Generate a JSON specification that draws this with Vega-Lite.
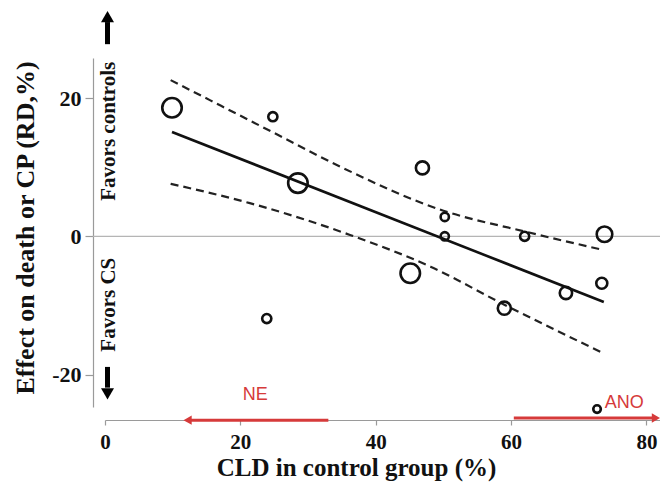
{
  "$schema": "https://vega.github.io/schema/vega-lite/v6.json",
  "width": 555,
  "height": 349,
  "autosize": "none",
  "padding": {"left": 105, "top": 58, "right": 0, "bottom": 77},
  "background": "white",
  "config": {"view": {"stroke": null}, "font": "Liberation Serif"},
  "datasets": {
    "studies": [
      {"x": 9.9, "y": 18.6, "weight": 100},
      {"x": 24.8, "y": 17.3, "weight": 22},
      {"x": 28.5, "y": 7.7, "weight": 100},
      {"x": 46.9, "y": 9.9, "weight": 45},
      {"x": 50.2, "y": 2.8, "weight": 18},
      {"x": 50.2, "y": 0, "weight": 18},
      {"x": 62.0, "y": 0, "weight": 22},
      {"x": 73.8, "y": 0.3, "weight": 64},
      {"x": 23.9, "y": -11.9, "weight": 22},
      {"x": 45.1, "y": -5.35, "weight": 100},
      {"x": 59.0, "y": -10.4, "weight": 45},
      {"x": 68.1, "y": -8.2, "weight": 40},
      {"x": 73.4, "y": -6.8, "weight": 32},
      {"x": 72.7, "y": -25.0, "weight": 15}
    ],
    "fit": [
      {"x": 9.9, "y": 15.1},
      {"x": 73.7, "y": -9.5}
    ],
    "bands": [
      {"bound": "upper", "x": 9.7, "y": 22.6},
      {"bound": "upper", "x": 24.9, "y": 15.0},
      {"bound": "upper", "x": 34.7, "y": 10.1},
      {"bound": "upper", "x": 50.0, "y": 3.7},
      {"bound": "upper", "x": 62.0, "y": 0.7},
      {"bound": "upper", "x": 73.7, "y": -2.0},
      {"bound": "lower", "x": 9.7, "y": 7.6},
      {"bound": "lower", "x": 21.4, "y": 4.8},
      {"bound": "lower", "x": 36.2, "y": 0.2},
      {"bound": "lower", "x": 48.1, "y": -4.4},
      {"bound": "lower", "x": 59.0, "y": -9.9},
      {"bound": "lower", "x": 73.4, "y": -16.8}
    ],
    "zero": [{"x": -1.8, "x2": 82, "y": 0}],
    "redShafts": [
      {"x": 12.5, "x2": 33.0, "y": -26.6},
      {"x": 60.4, "x2": 81.0, "y": -26.3}
    ],
    "redHeads": [
      {"x": 12.2, "y": -26.6, "dir": "triangle-left"},
      {"x": 81.4, "y": -26.3, "dir": "triangle-right"}
    ],
    "redLabels": [
      {"x": 22.2, "y": -23.0, "label": "NE"},
      {"x": 76.7, "y": -24.1, "label": "ANO"}
    ],
    "blackShafts": [
      {"x": 0.37, "y": 27.8, "y2": 31.0},
      {"x": 0.37, "y": -18.9, "y2": -21.9}
    ],
    "blackHeads": [
      {"x": 0.37, "y": 31.8, "dir": "triangle-up"},
      {"x": 0.37, "y": -22.8, "dir": "triangle-down"}
    ],
    "favors": [
      {"x": 1.48, "y": 15.2, "label": "Favors controls"},
      {"x": 1.48, "y": -9.9, "label": "Favors CS"}
    ]
  },
  "encoding": {
    "x": {"field": "x", "type": "quantitative", "scale": {"domain": [0, 82], "nice": false, "zero": false},
      "axis": {
        "orient": "bottom", "offset": 13, "values": [0, 20, 40, 60, 80], "grid": false,
        "domainColor": "#9a9a9a", "domainWidth": 1.2, "tickColor": "#9a9a9a", "tickSize": 5, "tickWidth": 1.2,
        "labelFont": "Liberation Serif", "labelFontSize": 21, "labelFontWeight": "bold", "labelColor": "#111",
        "labelPadding": 6, "labelFlush": false, "labelOverlap": false,
        "title": "CLD in control group (%)", "titleFont": "Liberation Serif", "titleFontSize": 25,
        "titleFontWeight": "bold", "titleColor": "#111", "titleX": 251, "titleY": 55,
        "titleAlign": "center", "titleBaseline": "alphabetic"
      }},
    "y": {"field": "y", "type": "quantitative", "scale": {"domain": [-24.7, 25.8], "nice": false, "zero": false},
      "axis": {
        "orient": "left", "offset": 12, "values": [-20, 0, 20], "grid": false,
        "domainColor": "#9a9a9a", "domainWidth": 1.2, "tickColor": "#9a9a9a", "tickSize": 8, "tickWidth": 1.2,
        "labelFont": "Liberation Serif", "labelFontSize": 22, "labelFontWeight": "bold", "labelColor": "#111",
        "labelPadding": 4, "labelOverlap": false, "labelExpr": "'' + datum.value",
        "title": "Effect on death or CP (RD,%)", "titleFont": "Liberation Serif", "titleFontSize": 26,
        "titleFontWeight": "bold", "titleColor": "#111", "titleAngle": 270, "titleX": -60, "titleY": 169.5,
        "titleAlign": "center", "titleBaseline": "alphabetic"
      }}
  },
  "layer": [
    {
      "data": {"name": "zero"},
      "mark": {"type": "rule", "color": "#b5b5b5", "strokeWidth": 1.2, "clip": false},
      "encoding": {"x2": {"field": "x2"}}
    },
    {
      "data": {"name": "bands"},
      "mark": {"type": "line", "color": "#222", "strokeWidth": 2.2, "strokeDash": [8, 5], "interpolate": "monotone", "clip": false},
      "encoding": {"detail": {"field": "bound"}}
    },
    {
      "data": {"name": "fit"},
      "mark": {"type": "line", "color": "#111", "strokeWidth": 2.6, "clip": false},
      "encoding": {}
    },
    {
      "data": {"name": "studies"},
      "mark": {"type": "point", "shape": "circle", "filled": false, "stroke": "#111", "strokeWidth": 2.6, "opacity": 1, "clip": false},
      "encoding": {
        "size": {"field": "weight", "type": "quantitative", "scale": {"domain": [0, 100], "range": [0, 380], "zero": true}, "legend": null}
      }
    },
    {
      "data": {"name": "redShafts"},
      "mark": {"type": "rule", "color": "#d63a3a", "strokeWidth": 3, "clip": false},
      "encoding": {"x2": {"field": "x2"}}
    },
    {
      "data": {"name": "redHeads"},
      "mark": {"type": "point", "filled": true, "color": "#d63a3a", "size": 90, "opacity": 1, "clip": false},
      "encoding": {"shape": {"field": "dir", "type": "nominal", "scale": null, "legend": null}}
    },
    {
      "data": {"name": "redLabels"},
      "mark": {"type": "text", "font": "Liberation Sans", "fontSize": 18, "color": "#d63a3a", "align": "center", "baseline": "middle", "clip": false},
      "encoding": {"text": {"field": "label"}}
    },
    {
      "data": {"name": "blackShafts"},
      "mark": {"type": "rule", "color": "#000", "strokeWidth": 5, "clip": false},
      "encoding": {"y2": {"field": "y2"}}
    },
    {
      "data": {"name": "blackHeads"},
      "mark": {"type": "point", "filled": true, "color": "#000", "size": 169, "opacity": 1, "clip": false},
      "encoding": {"shape": {"field": "dir", "type": "nominal", "scale": null, "legend": null}}
    },
    {
      "data": {"name": "favors"},
      "mark": {"type": "text", "font": "Liberation Serif", "fontSize": 21, "fontWeight": "bold", "color": "#111", "angle": 270, "align": "center", "baseline": "alphabetic", "clip": false},
      "encoding": {"text": {"field": "label"}}
    }
  ]
}
